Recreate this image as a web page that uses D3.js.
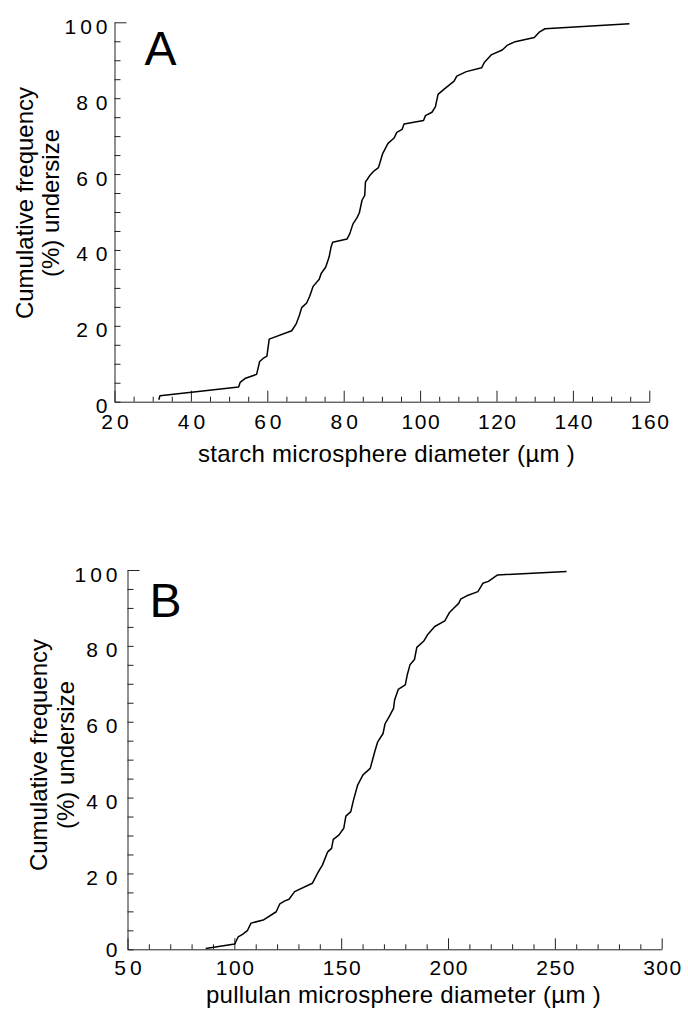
<!DOCTYPE html>
<html>
<head>
<meta charset="utf-8">
<script src="https://cdn.jsdelivr.net/npm/d3@7"></script>
<style>
  html, body { margin: 0; padding: 0; background: #fff; }
  svg { display: block; font-family: "Liberation Sans", Arial, Helvetica, sans-serif; }
</style>
</head>
<body>
<div id="chart"></div>
<script>
// panel A: starch microspheres
const starchDiameter = [31.6, 31.9, 52.5, 52.9, 54.3, 57.2, 58.0, 58.9, 59.9, 60.5,
  66.4, 67.6, 68.4, 69.0, 70.3, 71.1, 72.0, 73.6, 74.1, 75.3,
  76.2, 76.7, 77.1, 80.9, 81.6, 82.4, 83.5, 84.1, 84.8, 85.5,
  85.7, 86.9, 87.9, 89.1, 89.7, 90.2, 91.6, 93.2, 93.9, 95.3,
  95.8, 100.9, 101.4, 103.1, 104.0, 104.7, 106.3, 108.9, 109.6, 112.1,
  116.1, 116.8, 118.6, 121.5, 122.9, 124.9, 129.9, 131.3, 132.7, 154.8]
const starchCumFreq = [0.5, 1.6, 3.9, 5.1, 6.2, 7.2, 10.6, 11.4, 12.0, 16.5,
  18.7, 20.6, 22.8, 24.8, 26.0, 27.8, 30.4, 32.3, 33.8, 35.5,
  38.2, 40.8, 42.0, 42.9, 44.3, 46.8, 48.5, 49.8, 53.1, 54.4,
  57.9, 59.7, 60.8, 61.7, 63.7, 65.4, 68.1, 69.5, 71.0, 71.8,
  73.2, 74.1, 75.4, 76.3, 77.7, 81.0, 82.4, 84.5, 85.8, 87.0,
  88.0, 89.4, 91.4, 92.7, 94.0, 94.9, 96.0, 97.5, 98.3, 99.6]

// panel B: pullulan microspheres
const pullulanDiameter = [86.6, 100.2, 101.8, 104.0, 106.1, 107.8, 113.5, 119.6, 121.3, 123.4,
  125.6, 128.2, 136.5, 139.1, 141.2, 143.7, 145.5, 146.3, 148.9, 151.2,
  152.2, 154.5, 155.7, 157.7, 160.2, 163.6, 165.7, 167.1, 169.6, 170.5,
  172.6, 174.5, 175.0, 176.7, 180.0, 180.9, 182.2, 184.3, 185.4, 188.7,
  190.4, 193.8, 198.5, 200.7, 203.0, 205.0, 205.9, 208.8, 214.0, 216.3,
  218.9, 223.2, 255.5]
const pullulanCumFreq = [0.2, 1.4, 3.3, 4.0, 4.9, 6.9, 7.7, 9.9, 12.0, 12.7,
  13.2, 15.2, 17.4, 20.2, 22.2, 25.7, 26.6, 29.0, 30.1, 31.9,
  35.1, 36.3, 39.2, 43.3, 46.0, 47.7, 52.1, 54.7, 56.9, 59.4,
  61.5, 63.5, 65.7, 68.5, 69.7, 72.3, 75.0, 76.4, 79.6, 81.3,
  82.9, 85.1, 86.6, 88.8, 90.1, 91.2, 92.3, 93.2, 94.3, 96.5,
  97.0, 98.7, 99.6]

// ticks
const yTicks = [0, 20, 40, 60, 80, 100]
const starchXTicks = [20, 40, 60, 80, 100, 120, 140, 160]
const pullulanXTicks = [50, 100, 150, 200, 250, 300]

const W = 688
const H = 1017

const svg = d3.select("#chart")
              .append("svg")
              .attr("width", W)
              .attr("height", H)

svg.append("rect").attr("width", W).attr("height", H).attr("fill", "#fff")

// spacing between digits: two-digit labels are spread out, 3-digit ones tighter
function xSpacing(d) { return d >= 100 ? 1.5 : 4 }
function ySpacing(d) { return d === 100 ? 4 : 8 }

function drawPanel(opts) {
  const g = svg.append("g")
               .attr("transform", `translate(${opts.left}, ${opts.top})`)

  const x = d3.scaleLinear().domain(opts.xDomain).range([0, opts.width])
  const y = d3.scaleLinear().domain([0, 100]).range([opts.height, 0])

  // x axis: minor ticks, then labelled major ticks
  const xMinor = d3.range(opts.xDomain[0], opts.xDomain[1] + 0.001, opts.xMinorStep)
                   .filter(v => !opts.xTicks.includes(v))
  g.append("g")
   .attr("transform", `translate(0, ${opts.height})`)
   .call(d3.axisBottom(x).tickValues(xMinor).tickSize(-5).tickSizeOuter(0).tickFormat(""))
   .call(a => a.select(".domain").remove())

  const xAxis = g.append("g")
                 .attr("transform", `translate(0, ${opts.height})`)
                 .call(d3.axisBottom(x).tickValues(opts.xTicks).tickSize(-11).tickSizeOuter(0))
  xAxis.select(".domain").attr("stroke", "#222")
  xAxis.selectAll("text")
       .attr("y", opts.xLabelY)
       .attr("dy", null)
       .attr("dx", d => xSpacing(d) / 2)
       .attr("fill", "#000")
       .attr("font-size", 21)
       .attr("letter-spacing", xSpacing)
       .attr("font-family", "Liberation Sans, Arial, sans-serif")

  // y axis
  const yMinor = d3.range(5, 100, 5).filter(v => !yTicks.includes(v))
  g.append("g")
   .call(d3.axisLeft(y).tickValues(yMinor).tickSize(-6).tickSizeOuter(0).tickFormat(""))
   .call(a => a.select(".domain").remove())

  const yAxis = g.append("g")
                 .call(d3.axisLeft(y).tickValues(yTicks).tickSize(-6).tickSizeOuter(0))
  yAxis.select(".domain").attr("stroke", "#222")
  yAxis.selectAll(".tick line").filter(d => d === 100).attr("x2", 12)
  yAxis.selectAll("text")
       .attr("x", d => -opts.yLabelGap + ySpacing(d))
       .attr("dy", d => d === 0 ? opts.zeroDy : 11)
       .attr("fill", "#000")
       .attr("font-size", 21)
       .attr("letter-spacing", ySpacing)
       .attr("font-family", "Liberation Sans, Arial, sans-serif")

  g.selectAll(".tick line").attr("stroke", "#222")

  // data
  const data = opts.xs.map((v, i) => ({ d: v, f: opts.ys[i] }))
  g.append("path")
   .datum(data)
   .attr("fill", "none")
   .attr("stroke", "#000")
   .attr("stroke-width", 1.5)
   .attr("stroke-linejoin", "round")
   .attr("d", d3.line().x(p => x(p.d)).y(p => y(p.f)))

  // panel letter
  g.append("text")
   .attr("x", opts.letterX)
   .attr("y", opts.letterY)
   .attr("font-size", 48)
   .text(opts.letter)

  // x title
  g.append("text")
   .attr("x", opts.xTitleX)
   .attr("y", opts.xTitleY)
   .attr("text-anchor", "middle")
   .attr("font-size", 24)
   .attr("letter-spacing", 0.3)
   .text(opts.xTitle)

  // y title, two lines
  const yt = g.append("text")
              .attr("transform", `translate(${opts.yTitleX}, ${opts.yTitleCY}) rotate(-90)`)
              .attr("text-anchor", "middle")
              .attr("font-size", 24)
  yt.append("tspan").attr("x", 0).attr("y", 0).text("Cumulative frequency")
  yt.append("tspan").attr("x", 0).attr("y", opts.yTitleGap).text("(%) undersize")
}

drawPanel({
  left: 114.5, top: 22.3, width: 534.8, height: 379.4,
  xDomain: [20, 160], xTicks: starchXTicks, xMinorStep: 5,
  xs: starchDiameter, ys: starchCumFreq,
  yLabelGap: 7, xLabelY: 27, zeroDy: 11,
  letter: "A", letterX: 30, letterY: 43,
  xTitle: "starch microsphere diameter (\u00b5m )", xTitleX: 272, xTitleY: 440,
  yTitleX: 33 - 114.5, yTitleCY: 203 - 22.3, yTitleGap: 26
})

drawPanel({
  left: 127.5, top: 570, width: 534.2, height: 379.3,
  xDomain: [50, 300], xTicks: pullulanXTicks, xMinorStep: 10,
  xs: pullulanDiameter, ys: pullulanCumFreq,
  yLabelGap: 10, xLabelY: 26, zeroDy: 7,
  letter: "B", letterX: 22, letterY: 47,
  xTitle: "pullulan microsphere diameter (\u00b5m )", xTitleX: 276, xTitleY: 433,
  yTitleX: 47 - 127.5, yTitleCY: 755 - 570, yTitleGap: 27
})
</script>
</body>
</html>
